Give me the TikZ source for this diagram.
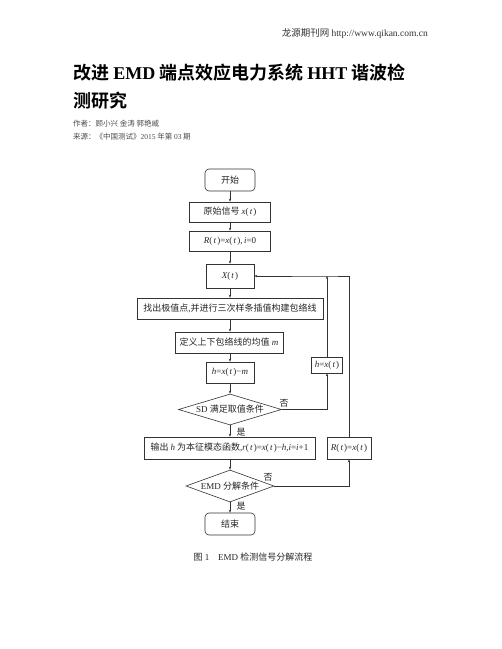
\documentclass[tikz,border=0pt]{standalone}
\usepackage{fontspec}
\setmainfont{Noto Sans CJK SC}[BoldFont={Noto Sans CJK SC Bold}]
\newfontfamily\tms{Liberation Serif}
\usetikzlibrary{shapes.geometric,arrows.meta}
\newcommand\vi[1]{{\tms\itshape #1}}
\newcommand\vr[1]{{\tms #1}}
\newcommand\pt{\vr{(}\kern1.2pt\vi{t}\kern1.2pt\vr{)}}
\tikzset{
  box/.style={draw=black!80, line width=0.6pt, inner sep=0pt, font=\fontsize{9}{11}\selectfont, text=black!85},
  rbox/.style={box, rounded corners=4pt},
  dbox/.style={box, diamond, aspect=3},
  flow/.style={draw=black!80, line width=0.5pt, -{Stealth[length=3pt,width=2.4pt]}},
  lab/.style={font=\fontsize{9}{11}\selectfont, text=black!85, inner sep=0pt},
}
\begin{document}
\begin{tikzpicture}[x=1pt,y=-1pt]
\useasboundingbox[fill=white] (0,0) rectangle (502,649);
% header and title
\node[anchor=east, inner sep=0pt, font=\fontsize{9.5}{11}\selectfont, text=black!80] (hdr) at (428,34) {龙源期刊网 \vr{http://www.qikan.com.cn}};
\node[anchor=base west, inner sep=0pt, font=\fontsize{18}{22}\selectfont\bfseries] (t1) at (73,79) {改进 \vr{\bfseries EMD} 端点效应电力系统 \vr{\bfseries HHT} 谐波检};
\node[anchor=base west, inner sep=0pt, font=\fontsize{18}{22}\selectfont\bfseries] (t2) at (73,107) {测研究};
\node[anchor=west, inner sep=0pt, font=\fontsize{7.5}{9}\selectfont, text=black!70] (au) at (73,124) {作者：顾小兴 金涛 郭艳威};
\node[anchor=west, inner sep=0pt, font=\fontsize{7.5}{9}\selectfont, text=black!70] (src) at (73,137) {来源：《中国测试》\vr{2015} 年第 \vr{03} 期};
% flowchart
\node[rbox, minimum width=50pt, minimum height=22pt] (start) at (230,180) {开始};
\node[box, minimum width=81pt, minimum height=20pt] (orig) at (230,212) {原始信号 \vi{x}\pt};
\node[box, minimum width=81pt, minimum height=20pt] (r0) at (230,241) {\vi{R}\pt\vr{=}\vi{x}\pt\vr{,}\,\vi{i}\vr{=0}};
\node[box, minimum width=48pt, minimum height=24pt] (xt) at (230,276) {\vi{X}\pt};
\node[box, minimum width=186pt, minimum height=21pt] (find) at (230,308.5) {找出极值点\vr{,}并进行三次样条插值构建包络线};
\node[box, minimum width=108pt, minimum height=21pt] (mean) at (229,342.5) {定义上下包络线的均值 \vi{m}};
\node[box, minimum width=48pt, minimum height=21pt] (hm) at (230,372.5) {\vi{h}\vr{=}\vi{x}\pt\vr{−}\vi{m}};
\node[dbox, minimum width=103pt, minimum height=31pt] (sd) at (230,409.5) {\vr{SD} 满足取值条件};
\node[box, minimum width=31pt, minimum height=16pt] (hx) at (327,365) {\vi{h}\vr{=}\vi{x}\pt};
\node[box, minimum width=171pt, minimum height=22pt] (out) at (229.5,448) {输出 \vi{h} 为本征模态函数\vr{,}\vi{r}\pt\vr{=}\vi{x}\pt\vr{−}\vi{h}\vr{,}\vi{i}\vr{=}\vi{i}\vr{+1}};
\node[box, minimum width=44pt, minimum height=22pt] (rx) at (349,448) {\vi{R}\pt\vr{=}\vi{x}\pt};
\node[dbox, minimum width=88pt, minimum height=32pt] (emd) at (230,486) {\vr{EMD} 分解条件};
\node[rbox, minimum width=50pt, minimum height=22pt] (end) at (230,524) {结束};
\coordinate (jn) at (327,276);
% connectors
\draw[flow] (start) -- (orig);
\draw[flow] (orig) -- (r0);
\draw[flow] (r0) -- (xt);
\draw[flow] (xt) -- (find);
\draw[flow] (find) -- (mean.north -| find.south);
\draw[flow] (mean.south -| hm.north) -- (hm);
\draw[flow] (hm) -- (sd);
\draw[flow] (sd) -- (out.north -| sd.south);
\draw[flow] (out.south -| emd.north) -- (emd);
\draw[flow] (emd) -- (end);
\draw[flow] (sd.east) -| (hx.south);
\draw[flow] (hx.north) -- (jn);
\draw[flow] (rx.north) |- (jn) -- (xt.east);
\draw[flow] (emd.east) -| (rx.south);
% labels
\node[lab] (l1) at (284,403) {否};
\node[lab] (l2) at (241,432) {是};
\node[lab] (l3) at (268,477) {否};
\node[lab] (l4) at (241,506) {是};
% caption
\node[inner sep=0pt, font=\fontsize{9}{11}\selectfont, text=black!85] (cap) at (253,557) {图 \vr{1}\quad \vr{EMD} 检测信号分解流程};
\end{tikzpicture}
\end{document}
